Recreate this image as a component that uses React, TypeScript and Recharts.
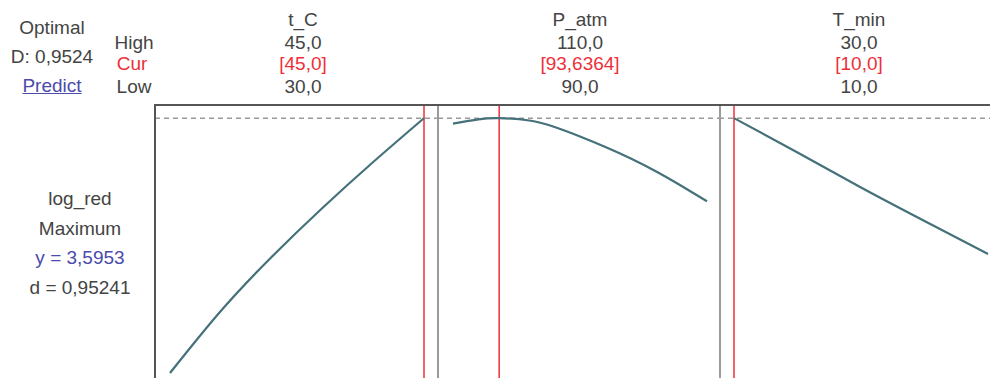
import React from 'react';
import { LineChart, Line, XAxis, YAxis, ReferenceLine } from 'recharts';

// response optimizer: log_red vs three factors
const tC = [30, 33, 36, 39, 42, 45];
const tCValues = [2.5333, 2.7917, 3.0167, 3.2208, 3.4125, 3.5953];

const pAtm = [90, 92, 93.6364, 96, 98, 100, 102, 104, 106, 108, 110];
const pAtmValues = [3.5721, 3.5904, 3.5953, 3.5854, 3.5583, 3.5188, 3.475, 3.4271, 3.3729, 3.3125, 3.2488];

const tMin = [10, 15, 20, 25, 30];
const tMinValues = [3.5953, 3.4521, 3.3063, 3.1667, 3.0292];

const factorNames = ['t_C', 'P_atm', 'T_min'];
const highLabels = ['45,0', '110,0', '30,0'];
const curLabels = ['[45,0]', '[93,6364]', '[10,0]'];
const lowLabels = ['30,0', '90,0', '10,0'];
const lows = [30, 90, 10];
const highs = [45, 110, 30];
const curs = [45, 93.6364, 10];

const yOpt = 3.5953;
const yDomain: [number, number] = [2.4, 3.65];

const FONT = '"Liberation Sans", Arial, sans-serif';
const TEXT = '#444';
const RED = '#ee2f3a';
const BLUE = '#4b4bab';
const CURVE = '#44717a';

const panels = [
  { x: tC, y: tCValues },
  { x: pAtm, y: pAtmValues },
  { x: tMin, y: tMinValues },
].map((p) => p.x.map((v, i) => ({ x: v, y: p.y[i] })));

const panelLeft = [155, 438, 719];
const labelCenter = [303, 580, 859];
const PANEL_W = 283;

const Label = ({ cx, cy, children, color = TEXT, style = {} }: any) => (
  <div
    style={{
      position: 'absolute',
      left: cx - 100,
      top: cy - 11,
      width: 200,
      height: 22,
      lineHeight: '22px',
      textAlign: 'center',
      fontSize: 19,
      color,
      whiteSpace: 'nowrap',
      ...style,
    }}
  >
    {children}
  </div>
);

export default function App() {
  return (
    <div
      style={{
        position: 'absolute',
        left: 0,
        top: 0,
        width: 990,
        height: 378,
        overflow: 'hidden',
        background: '#fff',
        fontFamily: FONT,
      }}
    >
      <Label cx={52} cy={28}>Optimal</Label>
      <Label cx={52} cy={57}>D: 0,9524</Label>
      <Label cx={52} cy={86} color={BLUE} style={{ textDecoration: 'underline' }}>Predict</Label>

      <Label cx={134} cy={43}>High</Label>
      <Label cx={132} cy={64} color={RED}>Cur</Label>
      <Label cx={134} cy={87}>Low</Label>

      {factorNames.map((name, i) => (
        <React.Fragment key={name}>
          <Label cx={labelCenter[i]} cy={20}>{name}</Label>
          <Label cx={labelCenter[i]} cy={43}>{highLabels[i]}</Label>
          <Label cx={labelCenter[i]} cy={64} color={RED}>{curLabels[i]}</Label>
          <Label cx={labelCenter[i]} cy={87}>{lowLabels[i]}</Label>
        </React.Fragment>
      ))}

      <Label cx={80} cy={199}>log_red</Label>
      <Label cx={80} cy={229}>Maximum</Label>
      <Label cx={80} cy={258} color={BLUE}>y = 3,5953</Label>
      <Label cx={80} cy={288}>d = 0,95241</Label>

      {panels.map((data, i) => (
        <div key={i} style={{ position: 'absolute', left: panelLeft[i], top: 105 }}>
          <LineChart width={PANEL_W} height={300} data={data} margin={{ top: 0, right: 0, bottom: 0, left: 0 }}>
            <XAxis
              type="number"
              dataKey="x"
              domain={[lows[i], highs[i]]}
              padding={{ left: 15, right: 14 }}
              hide
            />
            <YAxis type="number" domain={yDomain} hide />
            <ReferenceLine y={yOpt} stroke="#9a9a9a" strokeWidth={1.5} strokeDasharray="5 4" />
            <ReferenceLine x={curs[i]} stroke={RED} strokeWidth={1.5} />
            <Line
              type="natural"
              dataKey="y"
              stroke={CURVE}
              strokeWidth={2.2}
              dot={false}
              isAnimationActive={false}
            />
          </LineChart>
        </div>
      ))}

      {/* panel separators and frame */}
      <div style={{ position: 'absolute', left: 437, top: 105, width: 1.5, height: 280, background: '#9a9a9a' }} />
      <div style={{ position: 'absolute', left: 719, top: 105, width: 1.5, height: 280, background: '#9a9a9a' }} />
      <div style={{ position: 'absolute', left: 154, top: 104, width: 840, height: 2, background: '#555' }} />
      <div style={{ position: 'absolute', left: 154, top: 104, width: 2, height: 280, background: '#555' }} />
    </div>
  );
}
